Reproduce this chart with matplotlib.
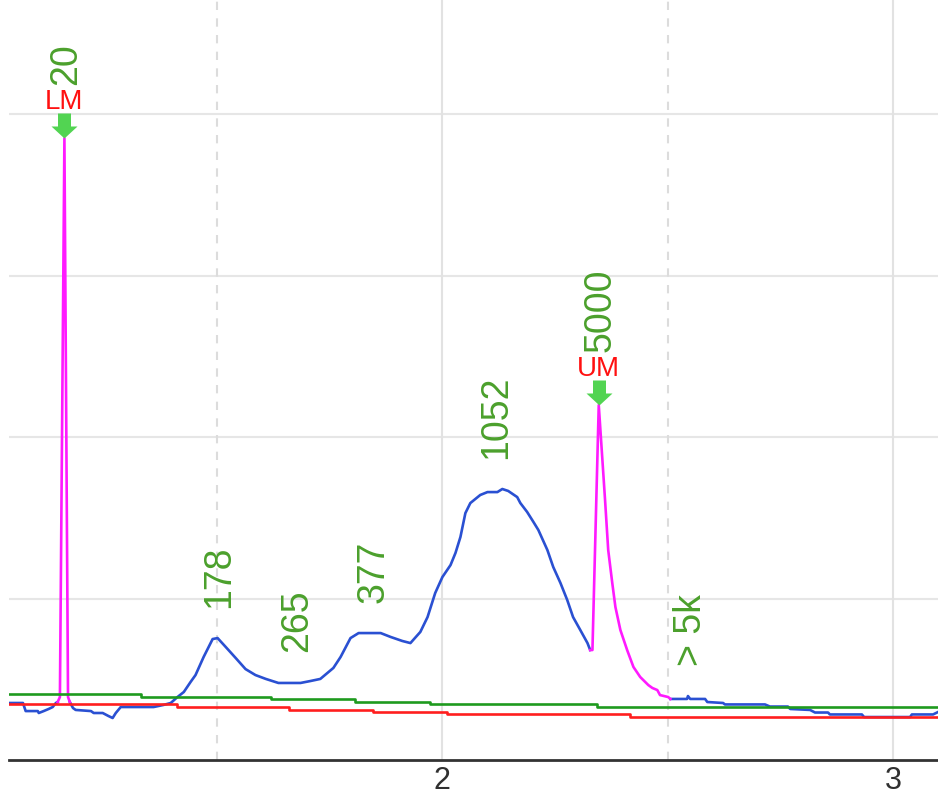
import numpy as np
import matplotlib
matplotlib.use("Agg")
import matplotlib.pyplot as plt
from matplotlib.path import Path

plt.rcParams["font.family"] = ["Liberation Sans", "DejaVu Sans"]

# ---- electropherogram data (migration axis, fluorescence) ----
# sample trace before the lower marker
pre_x = [1.038, 1.069, 1.075, 1.102, 1.104, 1.115, 1.126, 1.135, 1.142, 1.146]
pre_y = [0.353, 0.353, 0.303, 0.303, 0.291, 0.303, 0.316, 0.328, 0.353, 0.359]

# lower marker peak (LM)
lm_x = [1.146, 1.151, 1.161, 1.169, 1.173]
lm_y = [0.359, 0.390, 3.851, 0.390, 0.359]

# sample trace between the markers
mid_x = [1.173, 1.180, 1.186, 1.220, 1.226, 1.246, 1.259, 1.268, 1.275, 1.286,
         1.308, 1.359, 1.381, 1.397, 1.412, 1.426, 1.441, 1.452, 1.470, 1.490,
         1.501, 1.519, 1.541, 1.563, 1.585, 1.608, 1.636, 1.663, 1.685, 1.707,
         1.729, 1.758, 1.774, 1.796, 1.814, 1.863, 1.885, 1.911, 1.929, 1.951,
         1.967, 1.984, 2.000, 2.018, 2.029, 2.040, 2.051, 2.062, 2.084, 2.100,
         2.122, 2.133, 2.146, 2.166, 2.173, 2.188, 2.202, 2.213, 2.233, 2.246,
         2.262, 2.277, 2.290, 2.306, 2.322, 2.328]
mid_y = [0.359, 0.322, 0.310, 0.303, 0.291, 0.291, 0.272, 0.260, 0.291, 0.328,
         0.328, 0.328, 0.341, 0.353, 0.390, 0.421, 0.483, 0.526, 0.638, 0.749,
         0.755, 0.700, 0.632, 0.563, 0.526, 0.502, 0.477, 0.477, 0.477, 0.489,
         0.502, 0.570, 0.638, 0.755, 0.786, 0.786, 0.762, 0.737, 0.724, 0.793,
         0.885, 1.034, 1.133, 1.207, 1.282, 1.381, 1.529, 1.591, 1.641, 1.659,
         1.659, 1.678, 1.666, 1.628, 1.591, 1.536, 1.474, 1.424, 1.300, 1.195,
         1.096, 0.991, 0.885, 0.805, 0.724, 0.681]

# upper marker peak (UM) and its tail
um_x = [2.328, 2.333, 2.347, 2.361, 2.368, 2.377, 2.384, 2.395, 2.410, 2.424,
        2.439, 2.457, 2.466, 2.477, 2.483, 2.501, 2.506]
um_y = [0.681, 0.681, 2.198, 1.610, 1.300, 1.096, 0.947, 0.805, 0.681, 0.576,
        0.514, 0.464, 0.446, 0.433, 0.402, 0.390, 0.378]

# sample trace after the upper marker
post_x = [2.506, 2.543, 2.545, 2.550, 2.583, 2.588, 2.623, 2.627, 2.716, 2.727,
          2.767, 2.772, 2.816, 2.827, 2.856, 2.860, 2.931, 2.936, 3.038, 3.042,
          3.089, 3.100]
post_y = [0.378, 0.378, 0.396, 0.378, 0.378, 0.359, 0.353, 0.344, 0.344, 0.331,
          0.331, 0.316, 0.310, 0.294, 0.294, 0.282, 0.282, 0.266, 0.266, 0.282,
          0.282, 0.297]

# baselines (step functions)
green_x = [1.038, 1.330, 1.619, 1.807, 1.973, 2.344, 3.100]
green_y = [0.409, 0.390, 0.378, 0.359, 0.344, 0.331, 0.331]
red_x = [1.038, 1.412, 1.659, 1.847, 2.011, 2.417, 3.100]
red_y = [0.345, 0.326, 0.310, 0.295, 0.282, 0.266, 0.266]

# peak annotations (size in bp)
peak_labels = ["178", "265", "377", "1052", "> 5k"]
peak_pos = [1.497, 1.670, 1.840, 2.111, 2.545]

# markers
marker_names = ["LM", "UM"]
marker_sizes = ["20", "5000"]

# ---- figure ----
fig = plt.figure(figsize=(9.38, 7.97), dpi=100)
ax = fig.add_axes([9 / 938, 37 / 797, 929 / 938, 760 / 797])
ax.set_xlim(1.038, 3.100)
ax.set_ylim(0, 4.706)

# grid
for gy in [1, 2, 3, 4]:
    ax.axhline(gy, color="#e6e6e6", lw=1.5, zorder=0)
for gx in [2, 3]:
    ax.axvline(gx, color="#e2e2e2", lw=1.5, zorder=0)
for gx in [1.5, 2.5]:
    ax.axvline(gx, color="#dcdcdc", lw=1.5, dashes=(4, 4), zorder=0)

blue = "#2a50d2"
magenta = "#ff1aff"
lw = 1.9
ax.plot(pre_x, pre_y, color=blue, lw=lw, zorder=2)
ax.plot(mid_x, mid_y, color=blue, lw=lw, zorder=2)
ax.plot(post_x, post_y, color=blue, lw=lw, zorder=2)
ax.plot(lm_x, lm_y, color=magenta, lw=lw, zorder=3)
ax.plot(um_x, um_y, color=magenta, lw=lw, zorder=3)

ax.plot(green_x, green_y, color="#1e9a1e", lw=lw, drawstyle="steps-post", zorder=4)
ax.plot(red_x, red_y, color="#ff1e1e", lw=lw, drawstyle="steps-post", zorder=4)

# down-arrow marker with the tip at the data point
arrow = Path([(0, 0), (13, 12), (6.5, 12), (6.5, 25), (-6.5, 25),
              (-6.5, 12), (-13, 12), (0, 0)],
             [Path.MOVETO] + [Path.LINETO] * 6 + [Path.CLOSEPOLY])

label_green = "#4ba02c"
marker_peaks = [(lm_x[int(np.argmax(lm_y))], max(lm_y)),
                (um_x[int(np.argmax(um_y))], max(um_y))]
for (px, py), name, size in zip(marker_peaks, marker_names, marker_sizes):
    ax.plot([px], [py], marker=arrow, markersize=36, color="#52d452",
            markeredgewidth=0, linestyle="none", zorder=5)
    ax.annotate(name, (px, py), xytext=(0, 21), textcoords="offset points",
                ha="center", va="baseline", color="#ff1010", fontsize=20,
                zorder=6)
    ax.annotate(size, (px, py), xytext=(8.6, 38), textcoords="offset points",
                rotation=90, rotation_mode="anchor", ha="left", va="baseline",
                color=label_green, fontsize=27, zorder=6)

# peak size labels placed above the trace
trace_x = np.concatenate([pre_x, lm_x, mid_x, um_x, post_x])
trace_y = np.concatenate([pre_y, lm_y, mid_y, um_y, post_y])
dense_x = np.linspace(1.2, 3.0, 3000)
dense_y = np.interp(dense_x, trace_x, trace_y)
for lab, xp in zip(peak_labels, peak_pos):
    win = np.abs(dense_x - xp) < 0.02
    top = dense_y[win].max()
    ax.annotate(lab, (xp, top), xytext=(9.7, 22), textcoords="offset points",
                rotation=90, rotation_mode="anchor", ha="left", va="baseline",
                color=label_green, fontsize=27, zorder=6)

# axes styling
for side in ["left", "right", "top"]:
    ax.spines[side].set_visible(False)
ax.spines["bottom"].set_color("#333333")
ax.spines["bottom"].set_linewidth(2.0)
ax.set_yticks([])
ax.set_xticks([2, 3])
ax.set_xticklabels(["2", "3"])
ax.tick_params(axis="x", length=0, pad=4.5, labelsize=22, labelcolor="#303030")

fig.savefig("out.png", dpi=100)
